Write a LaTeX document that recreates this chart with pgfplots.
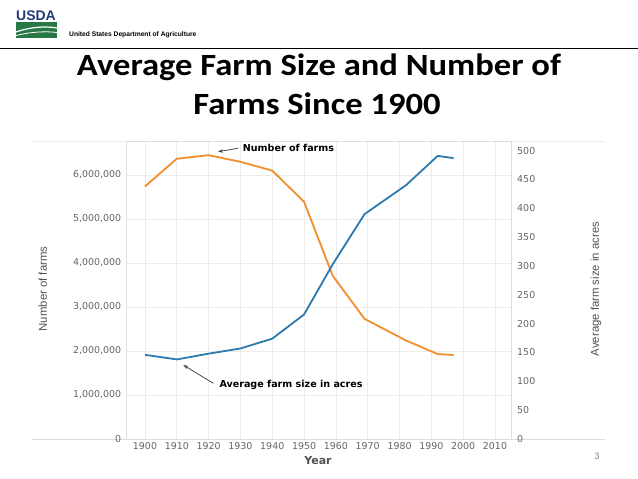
\documentclass[border=0pt]{standalone}
\usepackage{fontspec}
\setmainfont{Liberation Sans}
\newfontfamily\dejavu{DejaVu Sans}
\newfontfamily\carlito{Carlito}
\usepackage{pgfplots}
\pgfplotsset{compat=1.18}
\usetikzlibrary{arrows.meta}
\definecolor{farmorange}{RGB}{242,142,43}
\definecolor{farmblue}{RGB}{44,122,173}
\definecolor{gridgray}{RGB}{236,236,236}
\definecolor{axisgray}{RGB}{222,222,222}
\definecolor{ticklab}{RGB}{100,100,100}
\definecolor{ylab}{RGB}{80,80,80}
\definecolor{usdanavy}{RGB}{32,60,120}
\definecolor{usdagreen}{RGB}{40,120,70}
\begin{document}
\begin{tikzpicture}
\useasboundingbox (0,0) rectangle (638bp,479bp);
% header
\node[font=\bfseries\fontsize{14}{14}\selectfont, text=usdanavy, anchor=base west, inner sep=0] at (16bp,458bp) {USDA};
\fill[usdagreen] (16bp,441bp) rectangle (57bp,457bp);
\draw[white, line width=1.2bp] (16bp,447bp) .. controls (30bp,452bp) and (45bp,453bp) .. (57bp,451bp);
\draw[white, line width=0.8bp] (16bp,443.5bp) .. controls (30bp,447bp) and (45bp,448bp) .. (57bp,446.5bp);
\node[font=\bfseries\fontsize{6.7}{7}\selectfont, anchor=west, inner sep=0] at (69bp,444bp) {United States Department of Agriculture};
\draw[black, line width=1.3bp] (0,430.5bp) -- (638bp,430.5bp);
% title
\node[font=\carlito\bfseries\fontsize{31}{31}\selectfont, anchor=base, xscale=1.12, inner sep=0] at (319bp,403bp) {Average Farm Size and Number of};
\node[font=\carlito\bfseries\fontsize{31}{31}\selectfont, anchor=base, xscale=1.12, inner sep=0] at (317bp,364bp) {Farms Since 1900};
% pane lines
\draw[gridgray, line width=0.8bp] (32bp,338bp) -- (605bp,338bp);
\draw[axisgray, line width=0.8bp] (32bp,40bp) -- (605bp,40bp);
\begin{axis}[
  at={(126.7bp,40bp)}, anchor=south west, scale only axis,
  width=385bp, height=298bp,
  xmin=1894.25, xmax=2015.25, ymin=0, ymax=6773000,
  axis line style={draw=axisgray, line width=0.8bp},
  xtick={1900,1910,1920,1930,1940,1950,1960,1970,1980,1990,2000,2010},
  ytick={0,1000000,2000000,3000000,4000000,5000000,6000000},
  major tick length=0,
  grid=major, major grid style={draw=gridgray, line width=0.7bp},
  tick label style={font=\dejavu\fontsize{9.5}{10}\selectfont, text=ticklab},
  /pgf/number format/assume math mode=true,
  scaled y ticks=false,
  yticklabel style={/pgf/number format/fixed, /pgf/number format/precision=0, /pgf/number format/1000 sep={,}, xshift=-2bp},
  xticklabel style={/pgf/number format/1000 sep={}},
]
\addplot[farmorange, line width=1.8bp] coordinates {
 (1900,5740000) (1910,6370000) (1920,6450000) (1930,6300000) (1940,6100000)
 (1950,5390000) (1959,3710000) (1969,2730000) (1982,2240000) (1992,1930000) (1997,1910000)
};
\end{axis}
\begin{axis}[
  at={(126.7bp,40bp)}, anchor=south west, scale only axis,
  width=385bp, height=298bp,
  xmin=1894.25, xmax=2015.25, ymin=0, ymax=516.8,
  axis y line*=right, axis x line=none,
  axis line style={draw=axisgray, line width=0.8bp},
  ytick={0,50,100,150,200,250,300,350,400,450,500},
  major tick length=0,
  tick label style={font=\dejavu\fontsize{9.5}{10}\selectfont, text=ticklab},
  /pgf/number format/assume math mode=true,
  yticklabel style={xshift=2bp},
]
\addplot[farmblue, line width=1.8bp] coordinates {
 (1900,146) (1910,138) (1920,148) (1930,157) (1940,174) (1950,216)
 (1959,303) (1969,390) (1982,440) (1992,491) (1997,487)
};
\end{axis}
% axis titles
\node[rotate=90, font=\fontsize{11.4}{12}\selectfont, text=ylab] at (42.7bp,190bp) {Number of farms};
\node[rotate=90, font=\fontsize{11.4}{12}\selectfont, text=ylab] at (596bp,190bp) {Average farm size in acres};
\node[font=\dejavu\bfseries\fontsize{11}{12}\selectfont, text=ylab] at (318bp,18.3bp) {Year};
% annotations
\draw[-{Stealth[length=5bp,width=3.5bp]}, draw=black!75, fill=black!75, line width=0.7bp] (238bp,330.7bp) -- (218bp,327.3bp);
\node[anchor=west, font=\dejavu\bfseries\fontsize{9.6}{10}\selectfont, inner sep=0] at (242.7bp,330.7bp) {Number of farms};
\draw[-{Stealth[length=5bp,width=3.5bp]}, draw=black!75, fill=black!75, line width=0.7bp] (213.3bp,95.7bp) -- (183.3bp,114bp);
\node[anchor=west, font=\dejavu\bfseries\fontsize{9.6}{10}\selectfont, inner sep=0] at (219.3bp,94bp) {Average farm size in acres};
% page number
\node[font=\carlito\fontsize{10}{10}\selectfont, text=gray] at (597bp,23bp) {3};
\end{tikzpicture}
\end{document}
